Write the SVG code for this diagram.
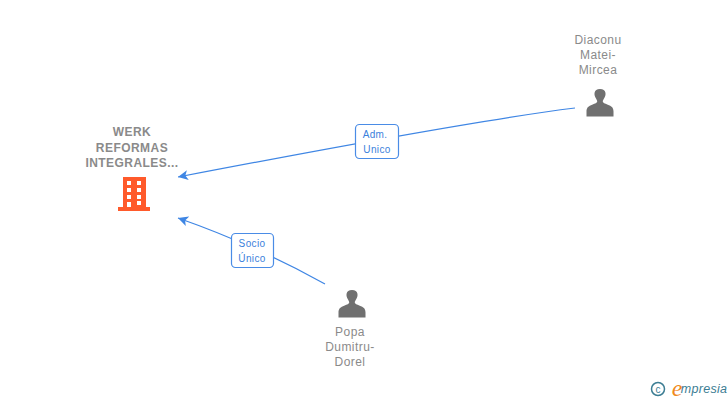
<svg xmlns="http://www.w3.org/2000/svg" width="728" height="400" viewBox="0 0 728 400">
<style>
text{font-family:"Liberation Sans",Arial,sans-serif;text-anchor:middle}
.n{font-size:12px;fill:#8a8a8a;letter-spacing:.45px}
.b{font-size:12px;fill:#8a8a8a;font-weight:bold;letter-spacing:.45px}
.l{font-size:10px;fill:#3b7fdc;letter-spacing:.35px}
.c{fill:none;stroke:#3f86e4;stroke-width:1.2}
.box{fill:#fff;stroke:#4a8ce6;stroke-width:1.2}
.p{fill:#707070}
</style>
<defs>
<marker id="a" markerUnits="userSpaceOnUse" markerWidth="12" markerHeight="12" refX="10" refY="5" orient="auto"><path d="M10 5L0 0L2.500 5L0 10Z" fill="#3f86e4"/></marker>
<path id="person" d="M-4 -4.500C-6.500 -8 -6.500 -14 0 -14C6.500 -14 6.500 -8 4 -4.500C3.200 -3 2.800 -2.500 2.800 -1.500C2.800 0 6 .8 9 2.200C12.500 3.700 13.500 5.500 13.500 8.500L13.500 13.500L-13.500 13.500L-13.500 8.500C-13.500 5.500 -12.500 3.700 -9 2.200C-6 .8 -2.800 0 -2.800 -1.500C-2.800 -2.500 -3.200 -3 -4 -4.500Z"/>
</defs>
<g id="connectors">
<path class="c" marker-end="url(#a)" d="M575 108Q470 121 178 177"/>
<path class="c" marker-end="url(#a)" d="M325 284Q255 245 178 218"/>
</g>
<g id="edge-label-1"><rect class="box" x="355.500" y="124.500" width="43" height="34" rx="4"/><text class="l" x="375" y="138">Adm.</text><text class="l" x="377" y="153">Unico</text></g>
<g id="edge-label-2"><rect class="box" x="231.500" y="233.500" width="42" height="34" rx="4"/><text class="l" x="252" y="247">Socio</text><text class="l" x="252" y="262">Único</text></g>
<g id="node-werk">
<text class="b" x="132" y="136">WERK</text><text class="b" x="132" y="152">REFORMAS</text><text class="b" x="132" y="167">INTEGRALES...</text>
<path fill="#ff5a2b" fill-rule="evenodd" d="M123 177H146V207H150V211H118V207H123ZM127 181V185H131V181ZM137 181V185H141V181ZM127 188V192H131V188ZM137 188V192H141V188ZM127 195V199H131V195ZM137 195V199H141V195ZM127 202V207H131V202ZM137 201V205H141V201Z"/>
</g>
<g id="node-diaconu">
<text class="n" x="598" y="44">Diaconu</text><text class="n" x="598" y="59">Matei-</text><text class="n" x="598" y="74">Mircea</text>
<use class="p" href="#person" x="600" y="103"/>
</g>
<g id="node-popa">
<text class="n" x="350" y="336">Popa</text><text class="n" x="350" y="351">Dumitru-</text><text class="n" x="350" y="366">Dorel</text>
<use class="p" href="#person" x="352" y="304"/>
</g>
<g id="logo">
<circle cx="658" cy="389" r="6.500" fill="none" stroke="#3c7d93" stroke-width="1.500"/>
<text x="658" y="392.500" style="font-size:10px;fill:#3c7d93">c</text>
<text x="677" y="396" style="font-size:24px;fill:#f08a1d;font-family:'Liberation Serif',serif;font-style:italic">e</text>
<text x="704" y="393" style="font-size:12.500px;fill:#3c7d93;font-style:italic;letter-spacing:.3px">mpresia</text>
</g>
</svg>
